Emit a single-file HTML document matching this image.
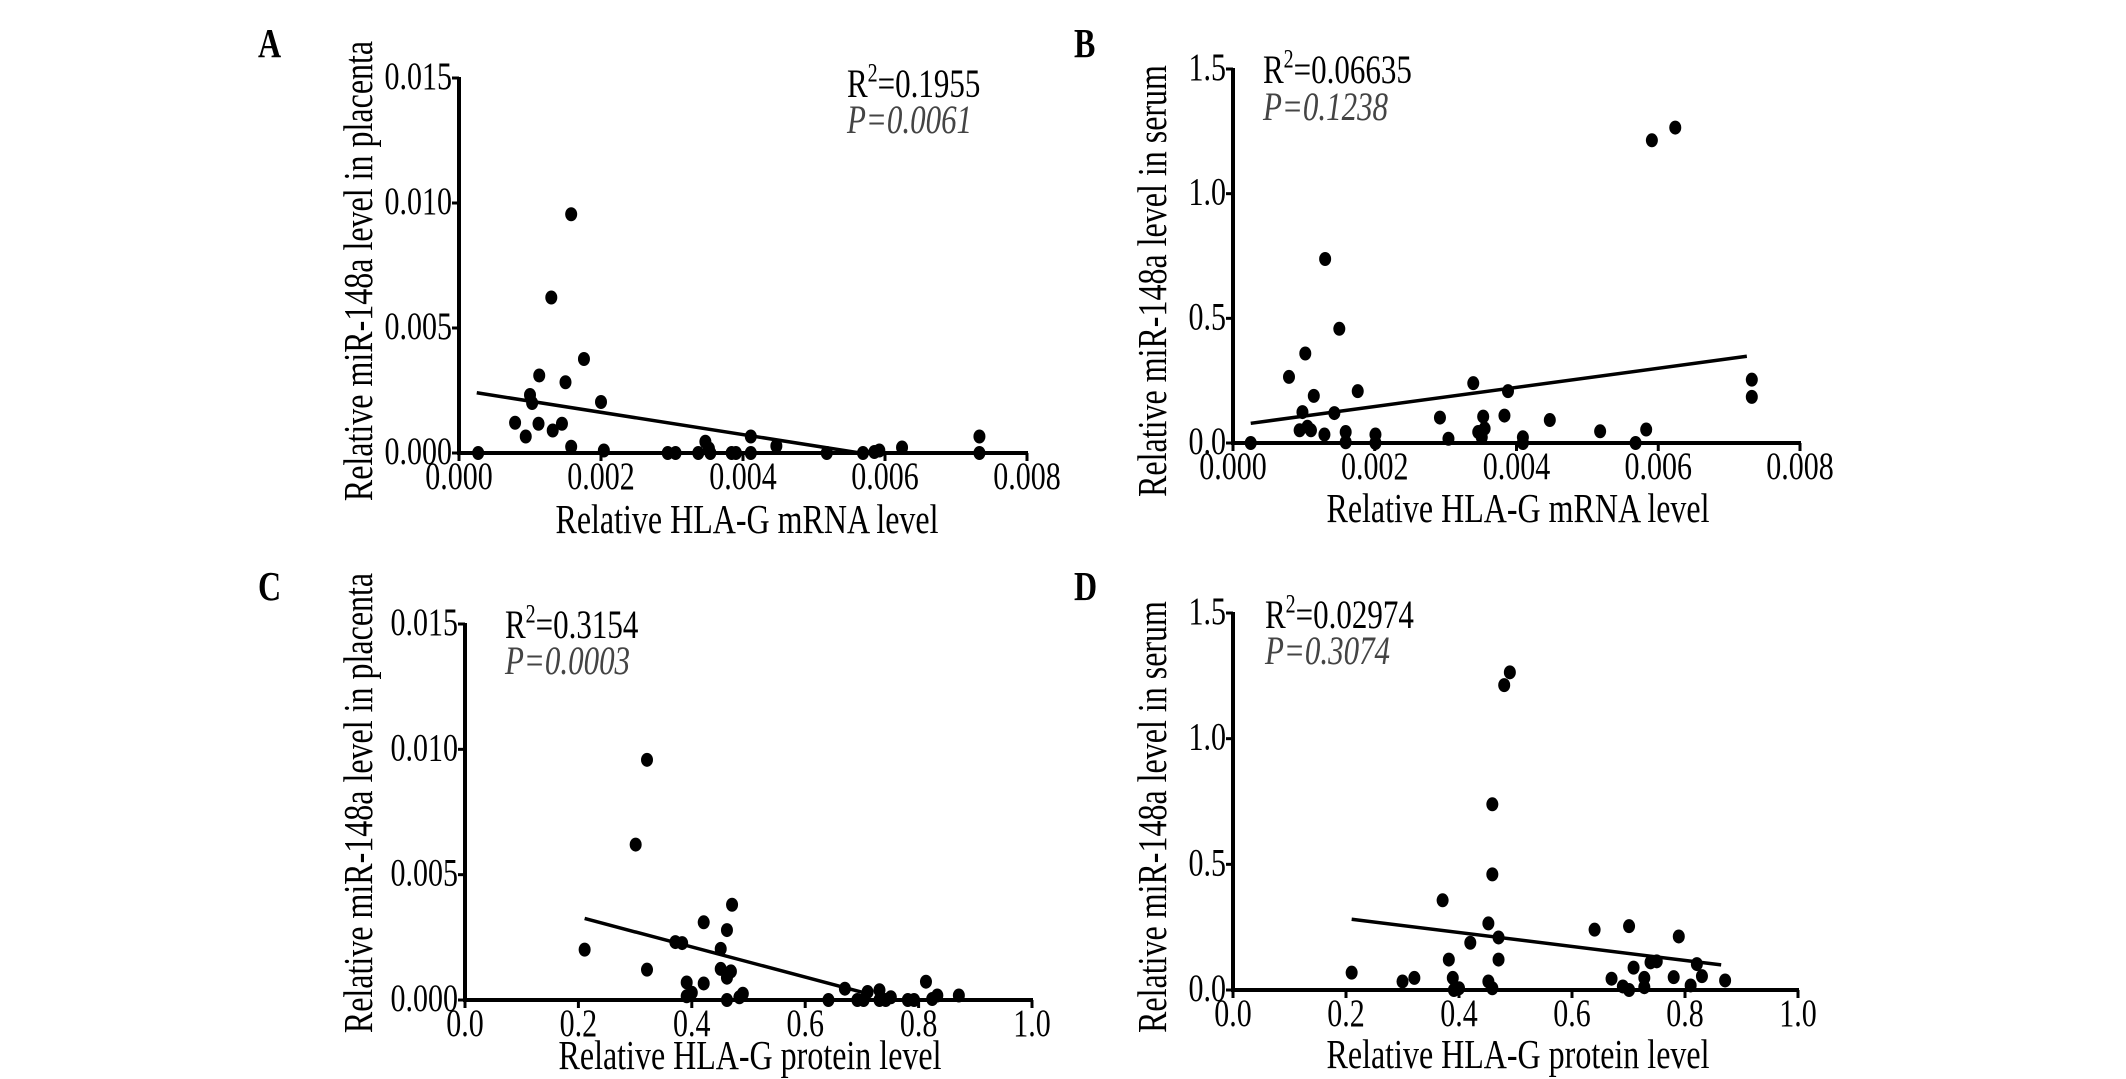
<!DOCTYPE html>
<html><head><meta charset="utf-8"><style>
html,body{margin:0;padding:0;background:#fff;}
svg{display:block;font-family:"Liberation Serif",serif;}
</style></head><body>
<svg id="fig" width="2126" height="1079" viewBox="0 0 2126 1079"></svg>
<script>
// Panel A: HLA-G mRNA vs placenta miR-148a
const aX=[0.00027,0.00158,0.0013,0.00176,0.00113,0.0015,0.001,0.00103,0.002,0.00079,0.00112,0.00145,0.00132,0.00094,0.00158,0.00204,0.00294,0.00305,0.00337,0.00347,0.00352,0.00354,0.00384,0.0039,0.00411,0.00411,0.00447,0.00518,0.00569,0.00585,0.00592,0.00624,0.00733,0.00733];
const aY=[0,0.00955,0.00622,0.00376,0.0031,0.00283,0.00232,0.002,0.00204,0.00121,0.00117,0.00117,0.0009,0.00066,0.00025,0.0001,0,0,0,0.00045,0.00018,0,0,0,0.00066,0,0.00028,0,0,0.00004,0.0001,0.00022,0.00066,0];
const aFit=[-0.446,0.00252,0.00025,0.00565];
// Panel B: HLA-G mRNA vs serum miR-148a
const bX=[0.00025,0.00591,0.00624,0.0013,0.0015,0.00102,0.00079,0.00339,0.00114,0.00176,0.00388,0.00732,0.00732,0.00098,0.00143,0.00292,0.00353,0.00383,0.00447,0.00094,0.00105,0.0011,0.00129,0.00159,0.00159,0.00201,0.00201,0.00304,0.00346,0.00351,0.00355,0.00409,0.00409,0.00518,0.00568,0.00583];
const bY=[0,1.214,1.265,0.738,0.458,0.359,0.265,0.24,0.189,0.208,0.208,0.254,0.185,0.124,0.12,0.102,0.106,0.11,0.092,0.051,0.065,0.051,0.034,0.044,0.003,0.034,0,0.017,0.044,0.023,0.058,0.023,0,0.047,0,0.054];
const bFit=[38.4,0.0694,0.00025,0.00725];
// Panel C: HLA-G protein vs placenta miR-148a
const cX=[0.321,0.301,0.211,0.321,0.471,0.421,0.462,0.371,0.383,0.451,0.451,0.469,0.462,0.391,0.421,0.391,0.4,0.462,0.484,0.49,0.641,0.67,0.692,0.703,0.71,0.731,0.731,0.742,0.751,0.781,0.792,0.813,0.824,0.833,0.871];
const cY=[0.00958,0.0062,0.00201,0.00121,0.0038,0.0031,0.00279,0.00231,0.00227,0.00204,0.00124,0.00114,0.00089,0.0007,0.00066,0.00015,0.00029,0,0.00011,0.00025,0,0.00045,0,0,0.00032,0.00039,0,0,0.00011,0,0,0.00073,0.00004,0.00018,0.00018];
const cFit=[-0.00601,0.00452,0.211,0.71];
// Panel D: HLA-G protein vs serum miR-148a
const dX=[0.21,0.3,0.321,0.371,0.382,0.389,0.391,0.4,0.42,0.452,0.452,0.459,0.459,0.459,0.47,0.47,0.48,0.49,0.64,0.67,0.69,0.701,0.701,0.709,0.728,0.728,0.739,0.75,0.78,0.789,0.81,0.821,0.83,0.871];
const dY=[0.069,0.034,0.048,0.357,0.121,0.048,0,0.007,0.188,0.265,0.034,0.739,0.46,0.007,0.209,0.121,1.213,1.264,0.24,0.045,0.014,0.254,0,0.089,0.048,0.011,0.11,0.114,0.051,0.213,0.018,0.103,0.055,0.038];
const dFit=[-0.278,0.340,0.21,0.864];
const mrnaTicks=["0.000","0.002","0.004","0.006","0.008"];
const protTicks=["0.0","0.2","0.4","0.6","0.8","1.0"];
const placTicks=["0.000","0.005","0.010","0.015"];
const serumTicks=["0.0","0.5","1.0","1.5"];

const NS="http://www.w3.org/2000/svg";
const svg=document.getElementById('fig');
const SY=1.3;
function mk(tag,attrs,parent,text){const e=document.createElementNS(NS,tag);for(const k in attrs)e.setAttribute(k,attrs[k]);if(text!==undefined)e.textContent=text;(parent||svg).appendChild(e);return e;}
function txt(parent,x,y,attrs,text,rot){const a=Object.assign({x:0,y:0,transform:`translate(${x},${y})${rot?' rotate(-90)':''} scale(1,${SY})`},attrs);return mk('text',a,parent,text);}

function panel(p){
  const g=mk('g',{});
  
  
  const sx=v=>p.x0+(v-p.xmin)/(p.xmax-p.xmin)*(p.x1-p.x0);
  const sy=v=>p.y0-(v-p.ymin)/(p.ymax-p.ymin)*(p.y0-p.yt);
  const lab=txt(g,p.lx,p.ly,{'font-size':32,'font-weight':'bold'},p.id);
  
  
  const ya=mk('line',{x1:p.x0,y1:p.yt-1,x2:p.x0,y2:p.y0+2,stroke:'#000','stroke-width':4},g);
  
  
  p.yticks.forEach(t=>{const v=parseFloat(t),y=sy(v);
    mk('line',{x1:p.x0-7,y1:y,x2:p.x0,y2:y,stroke:'#000','stroke-width':3},g);
    const tl=txt(g,p.x0-7,y+11,{'font-size':30,'text-anchor':'end'},t);
    
    });
  const xa=mk('line',{x1:p.x0-2,y1:p.y0,x2:p.x1+1,y2:p.y0,stroke:'#000','stroke-width':4},g);
  
  
  p.xticks.forEach(t=>{const v=parseFloat(t),x=sx(v);
    mk('line',{x1:x,y1:p.y0,x2:x,y2:p.y0+8,stroke:'#000','stroke-width':3},g);
    const tl=txt(g,x,p.y0+36,{'font-size':30,'text-anchor':'middle'},t);
    
    });
  const xt=txt(g,p.xtx,p.xty,{'font-size':32,'text-anchor':'middle'},p.xtitle);
  
  
  const yt=txt(g,p.ytx,p.yty,{'font-size':32,'text-anchor':'middle'},p.ytitle,true);
  
  
  const f=p.fit;const xa1=f[2],xa2=f[3];
  const ly=x=>Math.max(p.ymin,f[0]*x+f[1]);
  const rl=mk('line',{x1:sx(xa1),y1:sy(ly(xa1)),x2:sx(xa2),y2:sy(ly(xa2)),stroke:'#000','stroke-width':3.5},g);
  
  
  p.xs.forEach((xv,i)=>{const c=mk('ellipse',{cx:sx(xv),cy:sy(p.ys[i]),rx:6,ry:7,fill:'#000'},g);
    
    });
  const r=txt(g,p.rx,p.ry,{'font-size':31});
  
  
  mk('tspan',{},r,'R');mk('tspan',{'font-size':20,dy:-12},r,'2');mk('tspan',{dy:12},r,'='+p.r2);
  const pt=txt(g,p.rx,p.py,{'font-size':31,'font-style':'italic',fill:'#444'},'P='+p.pv);
  
  
}
const yPlac="Relative miR-148a level in placenta",ySer="Relative miR-148a level in serum";
panel({id:'A',lx:258,ly:57,x0:459,x1:1027,y0:453,yt:78,xmin:0,xmax:0.008,ymin:0,ymax:0.015,xticks:mrnaTicks,yticks:placTicks,xs:aX,ys:aY,fit:aFit,xtitle:"Relative HLA-G mRNA level",xtx:747,xty:533,ytitle:yPlac,ytx:372,yty:271,rx:847,ry:97,py:133,r2:"0.1955",pv:"0.0061"});
panel({id:'B',lx:1074,ly:57,x0:1233,x1:1800,y0:443,yt:69,xmin:0,xmax:0.008,ymin:0,ymax:1.5,xticks:mrnaTicks,yticks:serumTicks,xs:bX,ys:bY,fit:bFit,xtitle:"Relative HLA-G mRNA level",xtx:1518,xty:522,ytitle:ySer,ytx:1166,yty:281,rx:1263,ry:83,py:120,r2:"0.06635",pv:"0.1238"});
panel({id:'C',lx:258,ly:600,x0:465,x1:1032,y0:1000,yt:624,xmin:0,xmax:1,ymin:0,ymax:0.015,xticks:protTicks,yticks:placTicks,xs:cX,ys:cY,fit:cFit,xtitle:"Relative HLA-G protein level",xtx:750,xty:1069,ytitle:yPlac,ytx:372,yty:803,rx:505,ry:638,py:674,r2:"0.3154",pv:"0.0003"});
panel({id:'D',lx:1074,ly:600,x0:1233,x1:1798,y0:990,yt:613,xmin:0,xmax:1,ymin:0,ymax:1.5,xticks:protTicks,yticks:serumTicks,xs:dX,ys:dY,fit:dFit,xtitle:"Relative HLA-G protein level",xtx:1518,xty:1068,ytitle:ySer,ytx:1166,yty:817,rx:1265,ry:628,py:664,r2:"0.02974",pv:"0.3074"});
</script>
</body></html>
